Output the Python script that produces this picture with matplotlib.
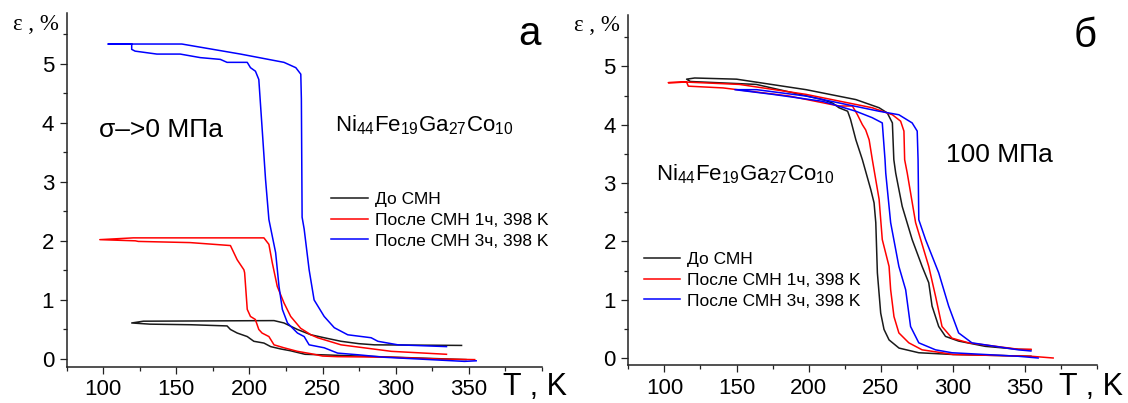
#!/usr/bin/env python3
"""Strain vs temperature loops for Ni44Fe19Ga27Co10, two stress levels (a: ~0 MPa, b: 100 MPa)."""

import matplotlib
matplotlib.use("Agg")
import matplotlib.pyplot as plt
from matplotlib.ticker import MultipleLocator

plt.rcParams["font.family"] = ["Liberation Sans", "DejaVu Sans"]
plt.rcParams["mathtext.default"] = "regular"

LABELS = ["До СМН", "После СМН 1ч, 398 K", "После СМН 3ч, 398 K"]
COLORS = ["#1a1a1a", "#ff0000", "#0000ff"]

# panel a, sigma -> 0 MPa (cooling branch then heating branch, one path per curve)
a_black_T = [348, 336, 300, 275, 251, 238, 228, 221.4, 214.5, 209.9, 203, 198.5, 191.6, 187, 184.7, 160, 132, 119.5,
             127.5, 216.8, 223.6, 232.8, 242, 251.1, 262.6, 274.7, 285.4, 345]
a_black_e = [-0.01, 0.0, 0.03, 0.05, 0.07, 0.08, 0.14, 0.17, 0.21, 0.27, 0.30, 0.38, 0.44, 0.50, 0.56, 0.58, 0.59, 0.61,
             0.64, 0.65, 0.61, 0.50, 0.41, 0.36, 0.30, 0.26, 0.24, 0.23]

a_red_T = [354, 330, 297, 260, 250, 242, 232.8, 223.6, 216.8, 213.3, 208.6, 206.4, 204, 200.7, 198.5, 196.7, 196.2,
           191.6, 189.3, 187, 159.5, 124, 122, 97.7,
           120.6, 209.9, 213.3, 215.6, 219, 223.6, 228.2, 235, 242, 246.6, 262.6, 297, 334.7]
a_red_e = [-0.01, 0.0, 0.03, 0.04, 0.05, 0.09, 0.13, 0.19, 0.24, 0.38, 0.44, 0.50, 0.67, 0.72, 0.84, 1.46, 1.51,
           1.68, 1.80, 1.92, 1.97, 1.99, 2.0, 2.02,
           2.05, 2.05, 1.94, 1.63, 1.23, 0.95, 0.72, 0.52, 0.41, 0.36, 0.24, 0.13, 0.08]

a_blue_T = [355, 347, 292, 275, 260.3, 251.1, 240.8, 237.4, 232.8, 226, 222.5, 220.2, 217.9, 213.3, 211, 208.7,
            206.4, 204.1, 200.7, 198.5, 184.7, 180.1, 166.4, 152.7, 136.7, 121.8, 119.5, 119.5, 103.4,
            153.8, 193.9, 223.6, 231.7, 235.1, 235.5, 236, 237.4, 240.8, 244.2, 251.1, 258, 267.2, 283.2, 287.8,
            301.5, 334.7]
a_blue_e = [-0.03, -0.04, 0.03, 0.07, 0.10, 0.19, 0.24, 0.38, 0.44, 0.61, 0.84, 1.23, 1.80, 2.36, 3.04, 3.89,
            4.73, 4.87, 4.93, 5.02, 5.02, 5.07, 5.10, 5.16, 5.16, 5.21, 5.24, 5.33, 5.33,
            5.33, 5.16, 5.02, 4.93, 4.82, 4.40, 2.40, 2.20, 1.51, 1.00, 0.72, 0.53, 0.41, 0.36, 0.30,
            0.24, 0.21]

# panel b, 100 MPa
b_black_T = [354, 300, 276.3, 262.6, 255.7, 252.2, 249.9, 247.6, 246.5, 245.3, 243, 237.2, 232.7, 229, 227, 221,
             216.6, 209.7, 163.7, 118, 115.4,
             121, 150, 198.2, 232.7, 248.8, 254.5, 258, 259, 260.3, 264.8, 271.7, 278.6, 283.2, 285.5, 290.1,
             294.8, 303.9, 322.3, 345.3, 354]
b_black_e = [0.03, 0.06, 0.09, 0.17, 0.31, 0.49, 0.77, 1.46, 2.32, 2.66, 2.89, 3.40, 3.74, 4.09, 4.23, 4.29,
             4.37, 4.43, 4.69, 4.74, 4.78,
             4.80, 4.78, 4.60, 4.43, 4.29, 4.20, 4.03, 3.40, 3.17, 2.60, 2.03, 1.57, 1.29, 0.89, 0.54,
             0.37, 0.29, 0.20, 0.15, 0.14]

b_red_T = [369.4, 354, 300, 292.4, 278.6, 269.4, 262.5, 259.1, 256.8, 255.7, 251, 248.8, 244.1, 241.9, 239.5, 237.2,
           233.8, 230.3, 221, 186.7, 140.7, 116.6, 115.4, 102.8,
           115.4, 152, 198, 244, 258, 263.7, 266, 266.5, 268.3, 274.1, 283.2, 287.9, 292.4, 299.3, 310.8, 345.3, 354]
b_red_e = [0.0, 0.03, 0.06, 0.09, 0.14, 0.26, 0.43, 0.71, 1.17, 1.57, 2.03, 2.72, 3.40, 3.74, 3.91, 4.0,
           4.17, 4.32, 4.32, 4.49, 4.63, 4.66, 4.73, 4.72,
           4.73, 4.69, 4.52, 4.29, 4.17, 4.06, 3.89, 3.40, 3.17, 2.32, 1.57, 1.06, 0.54, 0.34, 0.26, 0.15, 0.15]

b_blue_T = [359, 345, 299.3, 287.9, 276.3, 270.6, 267.2, 262.5, 256.8, 253.4, 252.9, 251, 244, 232.7, 209.7, 175,
            148.8,
            164, 198.2, 248.8, 262.5, 271.7, 275.2, 275.8, 276.3, 281, 290.1, 297, 303.9, 313.1, 345.3, 354]
b_blue_e = [0.0, 0.03, 0.09, 0.14, 0.26, 0.54, 1.17, 1.57, 2.32, 3.17, 3.40, 4.03, 4.12, 4.23, 4.40, 4.52,
            4.60,
            4.60, 4.49, 4.23, 4.17, 4.03, 3.89, 3.40, 2.37, 2.03, 1.46, 0.89, 0.43, 0.26, 0.14, 0.12]

FIG_W, FIG_H = 1128, 403


def fx(px):
    return px / FIG_W


def fy(py):
    return 1 - py / FIG_H


def style_axes(ax, ylim):
    ax.set_xlim(75, 400)
    ax.set_ylim(*ylim)
    for side in ("top", "right"):
        ax.spines[side].set_visible(False)
    for side in ("left", "bottom"):
        ax.spines[side].set_linewidth(1.1)
        ax.spines[side].set_color("#222222")
    ax.xaxis.set_major_locator(MultipleLocator(50))
    ax.xaxis.set_minor_locator(MultipleLocator(25))
    ax.yaxis.set_major_locator(MultipleLocator(1))
    ax.yaxis.set_minor_locator(MultipleLocator(0.5))
    ax.set_xticks([100, 150, 200, 250, 300, 350])
    ax.tick_params(which="major", direction="out", length=5, width=0.9, labelsize=16, pad=4, color="#222222")
    ax.tick_params(which="minor", direction="out", length=3, width=0.9, color="#222222")


def draw_panel(ax, curves, ylim):
    for (T, e), lab, col in zip(curves, LABELS, COLORS):
        ax.plot(T, e, "-", color=col, lw=1.1, label=lab)
    style_axes(ax, ylim)


fig = plt.figure(figsize=(FIG_W / 100, FIG_H / 100), dpi=100)

ax_a = fig.add_axes([fx(66.6), fy(366.7), fx(542 - 66.6), (366.7 - 13.3) / FIG_H])
ax_b = fig.add_axes([fx(628.3), fy(365), fx(1097.3 - 628.3), (365 - 15) / FIG_H])

draw_panel(ax_a, [(a_black_T, a_black_e), (a_red_T, a_red_e), (a_blue_T, a_blue_e)], (-0.13, 5.85))
draw_panel(ax_b, [(b_black_T, b_black_e), (b_red_T, b_red_e), (b_blue_T, b_blue_e)], (-0.12, 5.88))

leg_kw = dict(fontsize=12.5, frameon=False, handlelength=2.1, handletextpad=0.4, labelspacing=0.32,
              borderpad=0, borderaxespad=0, loc="upper left", bbox_transform=fig.transFigure)
ax_a.legend(bbox_to_anchor=(fx(331.4), fy(192)), **leg_kw)
ax_b.legend(bbox_to_anchor=(fx(644), fy(252)), **leg_kw)

serif = ["Liberation Serif", "DejaVu Serif"]
fig.text(fx(36), fy(30), "ε , %", family=serif, fontsize=16.5, ha="center", va="baseline")
fig.text(fx(597), fy(31), "ε , %", family=serif, fontsize=16.5, ha="center", va="baseline")
fig.text(fx(535), fy(395), "T , K", fontsize=22, ha="center", va="baseline")
fig.text(fx(1091), fy(395), "T , K", fontsize=22, ha="center", va="baseline")

fig.text(fx(530), fy(45), "а", fontsize=29, ha="center", va="baseline")
fig.text(fx(1085), fy(46.7), "б", fontsize=29, ha="center", va="baseline")

fig.text(fx(99), fy(137.3), "σ–>0 МПа", fontsize=19, ha="left", va="baseline")
fig.text(fx(335), fy(131.7), r"Ni$_{44}$Fe$_{19}$Ga$_{27}$Co$_{10}$", fontsize=16, ha="left", va="baseline")
fig.text(fx(656), fy(180), r"Ni$_{44}$Fe$_{19}$Ga$_{27}$Co$_{10}$", fontsize=16, ha="left", va="baseline")
fig.text(fx(946), fy(161.7), "100 МПа", fontsize=19, ha="left", va="baseline")

fig.savefig("out.png", dpi=100)
